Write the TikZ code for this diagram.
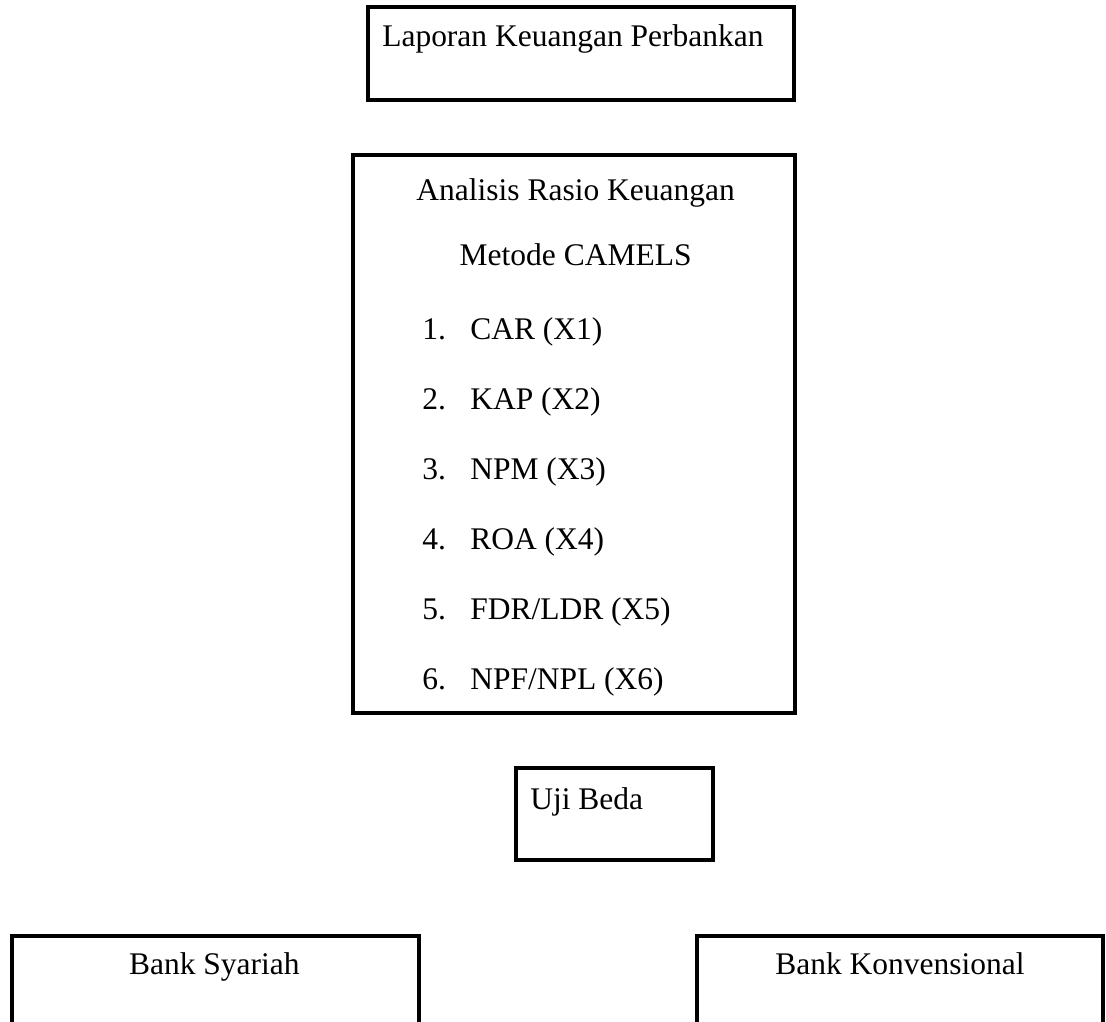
\documentclass[tikz,border=0pt]{standalone}
\usepackage{fontspec}
\setmainfont{Liberation Serif}

\tikzset{
  kotak/.style={line width=2.4pt},
  teks/.style={inner sep=0pt, anchor=base west, font=\fontsize{22.4}{26}\selectfont},
  tengah/.style={inner sep=0pt, anchor=base, font=\fontsize{22.4}{26}\selectfont}
}

\begin{document}
\begin{tikzpicture}
\useasboundingbox (0,0) rectangle (27.65,25.55);
%\draw[step=1cm,gray,very thin] (0,0) grid (27.65,25.55);
% kotak atas
\draw[kotak] (9.2,23.05) rectangle (19.85,25.375);
\node[teks] (lap) at (9.55,24.375) {Laporan Keuangan Perbankan};
% kotak rasio
\draw[kotak] (8.825,7.725) rectangle (19.875,21.675);
\node[tengah] (ana) at (14.39,20.525) {Analisis Rasio Keuangan};
\node[tengah] (met) at (14.39,18.9) {Metode CAMELS};
\node[teks] (n1) at (10.55,17.05) {1.};
\node[teks] (n2) at (10.55,15.3) {2.};
\node[teks] (n3) at (10.55,13.55) {3.};
\node[teks] (n4) at (10.55,11.8) {4.};
\node[teks] (n5) at (10.55,10.05) {5.};
\node[teks] (n6) at (10.55,8.3) {6.};
\node[teks] (car) at (11.75,17.05) {CAR (X1)};
\node[teks] (kap) at (11.75,15.3) {KAP (X2)};
\node[teks] (npm) at (11.75,13.55) {NPM (X3)};
\node[teks] (roa) at (11.75,11.8) {ROA (X4)};
\node[teks] (fdr) at (11.75,10.05) {FDR/LDR (X5)};
\node[teks] (npf) at (11.75,8.3) {NPF/NPL (X6)};
% uji beda
\draw[kotak] (12.9,4.05) rectangle (17.825,6.35);
\node[teks] (uji) at (13.25,5.3) {Uji Beda};
% kotak bawah
\draw[kotak] (0.3,0) -- (0.3,2.15) -- (10.475,2.15) -- (10.475,0);
\draw[kotak] (17.425,0) -- (17.425,2.15) -- (27.575,2.15) -- (27.575,0);
\node[tengah] (syr) at (5.36,1.175) {Bank Syariah};
\node[tengah] (knv) at (22.5,1.175) {Bank Konvensional};
\end{tikzpicture}
\end{document}
